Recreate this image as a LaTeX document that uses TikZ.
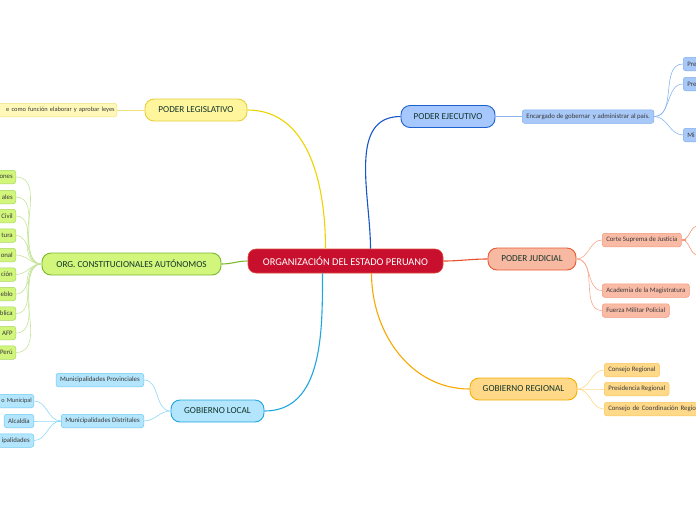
\documentclass[tikz,border=0pt]{standalone}
\usepackage{fontspec}
\setmainfont{Carlito}
\definecolor{crim}{HTML}{C8102E}
\definecolor{crimd}{HTML}{E0483A}
\definecolor{maintext}{HTML}{12352A}
\definecolor{leaftext}{HTML}{3A3A3A}
\definecolor{legfill}{HTML}{FFF59D}
\definecolor{legdraw}{HTML}{E6CF3A}
\definecolor{legline}{HTML}{EDD400}
\definecolor{legleaf}{HTML}{FFF8B8}
\definecolor{legleafd}{HTML}{F0E07A}
\definecolor{exefill}{HTML}{A6C8FF}
\definecolor{exedraw}{HTML}{1E62D0}
\definecolor{exeline}{HTML}{1656C8}
\definecolor{exeleaf}{HTML}{A8C8F8}
\definecolor{exeleafd}{HTML}{7FAEF0}
\definecolor{exeleafl}{HTML}{8AB4F0}
\definecolor{judfill}{HTML}{F8B9A2}
\definecolor{juddraw}{HTML}{E85A30}
\definecolor{judline}{HTML}{E8502A}
\definecolor{judleaf}{HTML}{F9BBA5}
\definecolor{judleafd}{HTML}{F29878}
\definecolor{judleafl}{HTML}{F7A88E}
\definecolor{regfill}{HTML}{FFD888}
\definecolor{regdraw}{HTML}{F5B000}
\definecolor{regline}{HTML}{F8A800}
\definecolor{regleaf}{HTML}{FFD98A}
\definecolor{regleafd}{HTML}{F7C65C}
\definecolor{regleafl}{HTML}{FBD88A}
\definecolor{locfill}{HTML}{B3E5FC}
\definecolor{locdraw}{HTML}{1FA6E0}
\definecolor{locline}{HTML}{1FA6E0}
\definecolor{locleaf}{HTML}{B3E5FC}
\definecolor{locleafd}{HTML}{6CCBF2}
\definecolor{locleafl}{HTML}{8ED8F7}
\definecolor{orgfill}{HTML}{D2F57C}
\definecolor{orgdraw}{HTML}{7CB82F}
\definecolor{orgline}{HTML}{7CB82F}
\definecolor{orgleaf}{HTML}{D2F57C}
\definecolor{orgleafd}{HTML}{A8D860}
\definecolor{orgleafl}{HTML}{C5E59A}
\begin{document}
\begin{tikzpicture}[x=1pt,y=1pt,
  mainbox/.style={rounded corners=9pt, line width=0.9pt, inner sep=0pt, align=center,
    font=\fontsize{9.2}{10}\selectfont, text=maintext, minimum height=22pt},
  leaf/.style={rounded corners=2.5pt, line width=0.5pt, inner ysep=0pt, inner xsep=4pt,
    font=\fontsize{6.8}{8}\selectfont, text=leaftext, minimum height=13.5pt},
  mainline/.style={line width=1.1pt},
  leafline/.style={line width=0.6pt},
]
\useasboundingbox (0,0) rectangle (696,-520);
\clip (0,0) rectangle (696,-520);

% central node
\node[fill=crim, draw=crimd, line width=0.6pt, rounded corners=8pt, minimum width=195pt,
  minimum height=24pt, inner sep=0pt, text=white, font=\fontsize{10.4}{11}\selectfont]
  (c) at (345.5,-261) {ORGANIZACIÓN DEL ESTADO PERUANO};

% main branches
\node[mainbox, fill=legfill, draw=legdraw, minimum width=102pt] (leg) at (196,-110) {PODER LEGISLATIVO};
\node[mainbox, fill=exefill, draw=exedraw, minimum width=94pt] (exe) at (448,-116.5) {PODER EJECUTIVO};
\node[mainbox, fill=judfill, draw=juddraw, minimum width=88pt] (jud) at (532,-259) {PODER JUDICIAL};
\node[mainbox, fill=regfill, draw=regdraw, minimum width=107pt] (reg) at (523.5,-389) {GOBIERNO REGIONAL};
\node[mainbox, fill=locfill, draw=locdraw, minimum width=93pt] (loc) at (217.5,-411) {GOBIERNO LOCAL};
\node[mainbox, fill=orgfill, draw=orgdraw, minimum width=179pt] (org) at (131.5,-264) {ORG. CONSTITUCIONALES AUTÓNOMOS};

% main connectors
\draw[mainline, legline] (leg.east) to[out=0,in=90] ([xshift=-20pt]c.north);
\draw[mainline, exeline] (exe.west) to[out=180,in=90] ([xshift=25pt]c.north);
\draw[mainline, judline] (c.east) to[out=0,in=180] (jud.west);
\draw[mainline, regline] ([xshift=26pt]c.south) to[out=-90,in=180] (reg.west);
\draw[mainline, locline] ([xshift=-23pt]c.south) to[out=-90,in=0] (loc.east);
\draw[mainline, orgline] (c.west) to[out=180,in=0] (org.east);

% legislative leaf
\node[leaf, fill=legleaf, draw=legleafd, anchor=east, text width=140pt, align=right,
  inner xsep=2pt, font=\fontsize{6.4}{8}\selectfont]
  (leg1) at (117,-110) {e como función elaborar y aprobar leyes};
\draw[leafline, legleafd] (leg.west) -- (leg1.east);

% executive leaves
\node[leaf, fill=exeleaf, draw=exeleafd, anchor=west] (exe1) at (522,-116.5) {Encargado de gobernar\, y administrar al país.};
\node[leaf, fill=exeleaf, draw=exeleafd, anchor=west, text width=40pt, align=left] (exe11) at (683,-64) {Pre};
\node[leaf, fill=exeleaf, draw=exeleafd, anchor=west, text width=40pt, align=left] (exe12) at (683,-84) {Pre};
\node[leaf, fill=exeleaf, draw=exeleafd, anchor=west, text width=40pt, align=left] (exe13) at (683,-135) {Mi};
\draw[leafline, exeleafl] (exe.east) -- (exe1.west);
\foreach \n in {exe11,exe12,exe13}
  \draw[leafline, exeleafl] (exe1.east) to[out=0,in=180] (\n.west);

% judicial leaves
\node[leaf, fill=judleaf, draw=judleafd, anchor=west] (jud1) at (602,-240) {Corte Suprema de Justicia};
\node[leaf, fill=judleaf, draw=judleafd, anchor=west] (jud2) at (602,-290.5) {Academia de la Magistratura};
\node[leaf, fill=judleaf, draw=judleafd, anchor=west] (jud3) at (602,-310.5) {Fuerza Militar Policial};
\foreach \n in {jud1,jud2,jud3}
  \draw[leafline, judleafl] (jud.east) to[out=0,in=180] (\n.west);
\coordinate (jo1) at (698,-226);
\coordinate (jo2) at (698,-255);
\draw[leafline, judleafd] (jud1.east) to[out=0,in=180] (jo1);
\draw[leafline, judleafd] (jud1.east) to[out=0,in=180] (jo2);
\draw[line width=1.2pt, judleafd] (jud1.east) -- ++(4,0);

% regional leaves
\node[leaf, fill=regleaf, draw=regleafd, anchor=west] (reg1) at (604,-370) {Consejo Regional};
\node[leaf, fill=regleaf, draw=regleafd, anchor=west] (reg2) at (604,-389) {Presidencia Regional};
\node[leaf, fill=regleaf, draw=regleafd, anchor=west, text width=110pt, align=left] (reg3) at (604,-409) {Consejo de Coordinación Regio};
\foreach \n in {reg1,reg2,reg3}
  \draw[leafline, regleafl] (reg.east) to[out=0,in=180] (\n.west);

% local leaves
\node[leaf, fill=locleaf, draw=locleafd, anchor=east] (loc1) at (144,-380) {Municipalidades Provinciales};
\node[leaf, fill=locleaf, draw=locleafd, anchor=east] (loc2) at (144,-421) {Municipalidades Distritales};
\foreach \n in {loc1,loc2}
  \draw[leafline, locleafl] (loc.west) to[out=180,in=0] (\n.east);
\node[leaf, fill=locleaf, draw=locleafd, anchor=east, text width=50pt, align=right,
  inner xsep=2pt, font=\fontsize{6.2}{8}\selectfont] (loc21) at (34,-401) {o Municipal};
\node[leaf, fill=locleaf, draw=locleafd, anchor=east] (loc22) at (34,-421) {Alcaldía};
\node[leaf, fill=locleaf, draw=locleafd, anchor=east, text width=50pt, align=right] (loc23) at (34,-440.5) {ipalidades};
\foreach \n in {loc21,loc22,loc23}
  \draw[leafline, locleafl] (loc2.west) to[out=180,in=0] (\n.east);

% org leaves
\foreach \t/\y [count=\i] in {ones/177, ales/197, Civil/216, tura/235.5, onal/255, ción/274.5, eblo/294, blica/313.5, AFP/333, Perú/352.5}{
  \node[leaf, fill=orgleaf, draw=orgleafd, anchor=east, text width=40pt, align=right, inner xsep=3pt]
    (org\i) at (16,-\y) {\t};
  \draw[leafline, orgleafl] (org.west) to[out=180,in=0] (org\i.east);
}
\end{tikzpicture}
\end{document}
